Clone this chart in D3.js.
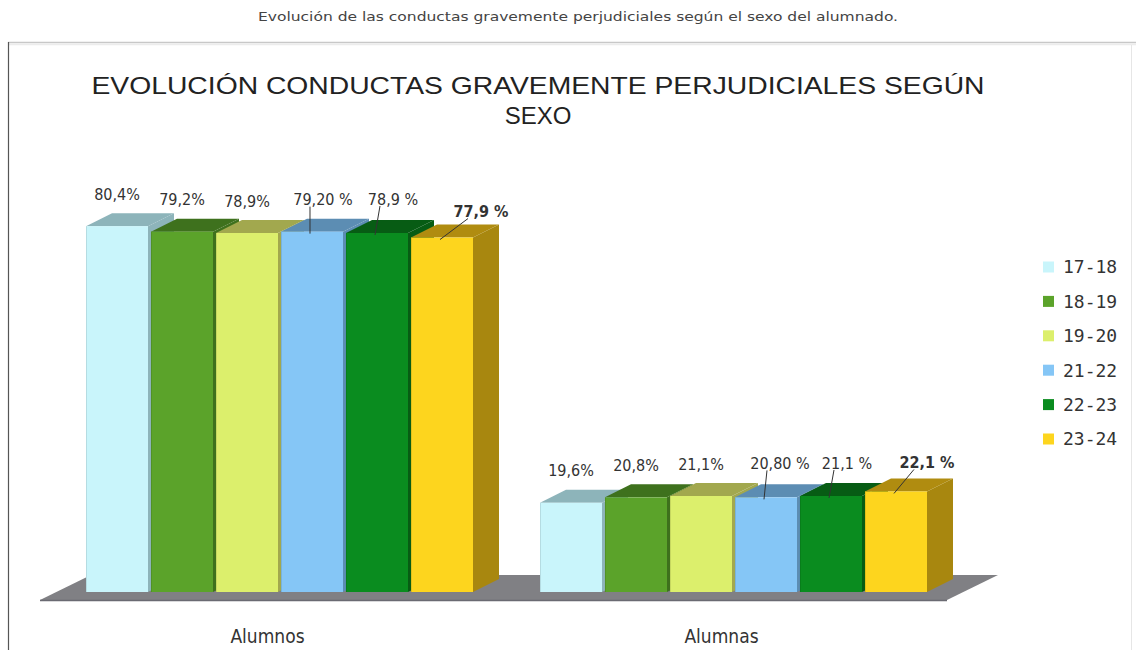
<!DOCTYPE html>
<html>
<head>
<meta charset="utf-8">
<script src="https://cdn.jsdelivr.net/npm/d3@7/dist/d3.min.js"></script>
<style>
  html, body { margin: 0; padding: 0; background: #fff; }
  svg { display: block; }
</style>
</head>
<body>
<svg id="chart" width="1136" height="650"></svg>
<script>
// ---------- data ----------
const groups = ["Alumnos", "Alumnas"];
const series = ["17-18", "18-19", "19-20", "21-22", "22-23", "23-24"];
const valuesAlumnos = [80.4, 79.2, 78.9, 79.2, 78.9, 77.9];
const valuesAlumnas = [19.6, 20.8, 21.1, 20.8, 21.1, 22.1];
const labelsAlumnos = ["80,4%", "79,2%", "78,9%", "79,20 %", "78,9 %", "77,9 %"];
const labelsAlumnas = ["19,6%", "20,8%", "21,1%", "20,80 %", "21,1 %", "22,1 %"];
const subtitle = "Evolución de las conductas gravemente perjudiciales según el sexo del alumnado.";
const titleLines = ["EVOLUCIÓN CONDUCTAS GRAVEMENTE PERJUDICIALES SEGÚN", "SEXO"];

// ---------- styles / layout ----------
const frontColors = ["#c9f5fb", "#5ba32a", "#dcef6c", "#85c6f6", "#0a8c1f", "#fdd51e"];
const topColors   = ["#8db4ba", "#3e711d", "#a2a84e", "#5c8db3", "#075c14", "#b08c10"];
const sideColors  = ["#8db4ba", "#3e711d", "#a2a84e", "#5c8db3", "#075c14", "#a8870f"];
// label nudges for the dragged labels (with leader lines)
const nudgeAlumnos = [[0,0],[0,0],[0,0],[11,0],[16,-2],[39,6]];
const nudgeAlumnas = [[0,0],[0,0],[0,0],[14,-2],[16,-1],[31,3]];

const values = [valuesAlumnos, valuesAlumnas];
const labels = [labelsAlumnos, labelsAlumnas];
const nudges = [nudgeAlumnos, nudgeAlumnas];

const svg = d3.select("#chart");
const narrow = "'Liberation Sans Narrow', 'DejaVu Sans Condensed', 'Liberation Sans', sans-serif";

const baseY = 592;
const depthX = 26, depthY = 13;

const x0 = d3.scaleBand().domain(groups).range([52.5, 960.5]).paddingInner(0).paddingOuter(0);
const x1 = d3.scaleBand().domain(series).range([0, 387]).paddingInner(0.046).paddingOuter(0);
const y = d3.scaleLinear().domain([0, 100]).range([baseY, baseY - 455]);
const clusterOffset = (x0.bandwidth() - 387) / 2;

// ---------- frame ----------
svg.append("line").attr("x1", 8).attr("x2", 1136).attr("y1", 42.5).attr("y2", 42.5)
  .attr("stroke", "#c8c8c8").attr("stroke-width", 1.5);
svg.append("line").attr("x1", 8).attr("x2", 1136).attr("y1", 44.5).attr("y2", 44.5)
  .attr("stroke", "#ececec").attr("stroke-width", 1.5);
svg.append("line").attr("x1", 8.5).attr("x2", 8.5).attr("y1", 42).attr("y2", 650)
  .attr("stroke", "#555").attr("stroke-width", 1.2);
svg.append("line").attr("x1", 1131.5).attr("x2", 1131.5).attr("y1", 45).attr("y2", 650)
  .attr("stroke", "#e6e6e6").attr("stroke-width", 1);

// ---------- subtitle & title ----------
svg.append("text").attr("x", 578).attr("y", 21).attr("text-anchor", "middle")
  .attr("font-family", narrow).attr("font-size", 13).attr("fill", "#444")
  .attr("textLength", 640).attr("lengthAdjust", "spacingAndGlyphs")
  .text(subtitle);

svg.append("text").attr("x", 538).attr("y", 94).attr("text-anchor", "middle")
  .attr("font-family", "'Liberation Sans', Arial, sans-serif").attr("font-size", 24).attr("fill", "#222")
  .attr("textLength", 893).attr("lengthAdjust", "spacingAndGlyphs")
  .text(titleLines[0]);
svg.append("text").attr("x", 538).attr("y", 124).attr("text-anchor", "middle")
  .attr("font-family", "'Liberation Sans', Arial, sans-serif").attr("font-size", 24).attr("fill", "#222")
  .text(titleLines[1]);

// ---------- floor ----------
const floorL = x0.range()[0] - 12.5, floorR = x0.range()[1] - 13.5;
const floorFrontY = baseY + 8, floorDX = 51, floorDY = 25;
svg.append("polygon")
  .attr("points", [[floorL, floorFrontY], [floorR, floorFrontY], [floorR + floorDX, floorFrontY - floorDY], [floorL + floorDX, floorFrontY - floorDY]].map(p => p.join(",")).join(" "))
  .attr("fill", "#808084");
svg.append("line").attr("x1", floorL).attr("x2", floorR).attr("y1", floorFrontY + 0.5).attr("y2", floorFrontY + 0.5)
  .attr("stroke", "#6a6a72").attr("stroke-width", 1.5);

// ---------- bars ----------
groups.forEach((g, gi) => {
  const gx = x0(g) + clusterOffset;
  const gEl = svg.append("g");
  series.forEach((s, si) => {
    const v = values[gi][si];
    const x = gx + x1(s), w = x1.bandwidth();
    const top = y(v);
    // side face
    gEl.append("polygon")
      .attr("points", [[x + w, top], [x + w + depthX, top - depthY], [x + w + depthX, baseY - depthY], [x + w, baseY]].map(p => p.join(",")).join(" "))
      .attr("fill", sideColors[si]);
    // top face
    gEl.append("polygon")
      .attr("points", [[x, top], [x + w, top], [x + w + depthX, top - depthY], [x + depthX, top - depthY]].map(p => p.join(",")).join(" "))
      .attr("fill", topColors[si]);
    // front face
    gEl.append("rect").attr("x", x).attr("y", top).attr("width", w).attr("height", baseY - top)
      .attr("fill", frontColors[si]);
    gEl.append("line").attr("x1", x + 0.5).attr("x2", x + 0.5).attr("y1", top).attr("y2", baseY)
      .attr("stroke", d3.color(frontColors[si]).darker(0.5)).attr("stroke-width", 1).attr("opacity", 0.6);
  });
});

// ---------- data labels ----------
groups.forEach((g, gi) => {
  const gx = x0(g) + clusterOffset;
  series.forEach((s, si) => {
    const v = values[gi][si];
    const cx = gx + x1(s) + x1.bandwidth() / 2;
    const top = y(v);
    const [nx, ny] = nudges[gi][si];
    const lx = cx + nx, ly = top - 32 + ny;
    if (nx !== 0 || ny !== 0) {
      svg.append("line")
        .attr("x1", lx - 13).attr("y1", ly + 7)
        .attr("x2", cx - 2).attr("y2", top + 2)
        .attr("stroke", "#333").attr("stroke-width", 1);
    }
    svg.append("text").attr("x", lx).attr("y", ly).attr("dy", "0.35em")
      .attr("text-anchor", "middle")
      .attr("font-family", narrow).attr("font-size", 16)
      .attr("font-weight", si === series.length - 1 ? "bold" : "normal")
      .attr("fill", "#333")
      .text(labels[gi][si]);
  });
});

// ---------- category labels ----------
groups.forEach(g => {
  svg.append("text").attr("x", x0(g) + x0.bandwidth() / 2 - 12).attr("y", 643)
    .attr("text-anchor", "middle").attr("font-family", narrow).attr("font-size", 19)
    .attr("fill", "#333").text(g);
});

// ---------- legend ----------
const legend = svg.append("g");
series.forEach((s, si) => {
  const ly = 267 + si * 34.4;
  legend.append("rect").attr("x", 1043).attr("y", ly - 5.5).attr("width", 11).attr("height", 11)
    .attr("fill", frontColors[si]);
  legend.append("text").attr("x", 1063).attr("y", ly).attr("dy", "0.36em")
    .attr("font-family", "'DejaVu Sans Mono', 'Liberation Mono', monospace").attr("font-size", 18)
    .attr("fill", "#333").text(s);
});
</script>
</body>
</html>
